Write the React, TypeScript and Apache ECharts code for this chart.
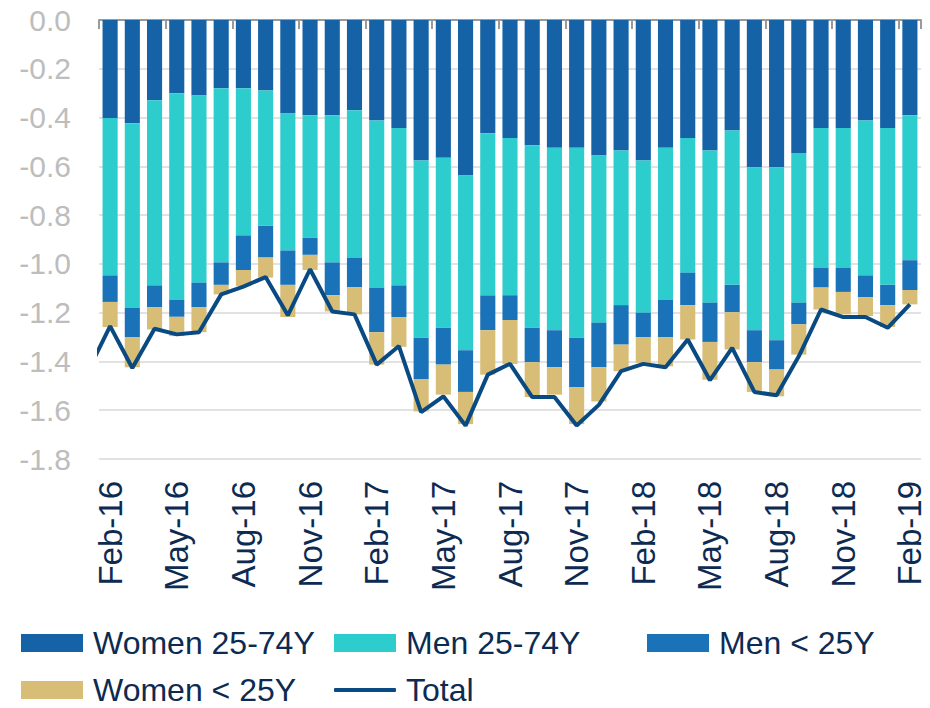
import React, { useEffect, useRef } from "react";
import * as echarts from "echarts";

const months = [
  "Feb-16", "Mar-16", "Apr-16", "May-16", "Jun-16", "Jul-16", "Aug-16", "Sep-16", "Oct-16", "Nov-16", "Dec-16",
  "Jan-17", "Feb-17", "Mar-17", "Apr-17", "May-17", "Jun-17", "Jul-17", "Aug-17", "Sep-17", "Oct-17", "Nov-17", "Dec-17",
  "Jan-18", "Feb-18", "Mar-18", "Apr-18", "May-18", "Jun-18", "Jul-18", "Aug-18", "Sep-18", "Oct-18", "Nov-18", "Dec-18",
  "Jan-19", "Feb-19",
];

const women2574 = [
  -0.402, -0.423, -0.329, -0.300, -0.310, -0.280, -0.280, -0.289, -0.383, -0.391, -0.391, -0.370,
  -0.412, -0.443, -0.576, -0.565, -0.638, -0.464, -0.484, -0.514, -0.524, -0.524, -0.556, -0.535,
  -0.576, -0.524, -0.484, -0.535, -0.453, -0.604, -0.604, -0.545, -0.443, -0.443, -0.412, -0.443, -0.391,
];
const men2574 = [
  -0.645, -0.758, -0.759, -0.848, -0.767, -0.714, -0.603, -0.555, -0.562, -0.502, -0.603, -0.604,
  -0.685, -0.645, -0.727, -0.697, -0.716, -0.665, -0.645, -0.748, -0.748, -0.779, -0.685, -0.634,
  -0.624, -0.624, -0.552, -0.624, -0.633, -0.668, -0.709, -0.614, -0.572, -0.572, -0.635, -0.643, -0.594,
];
const menUnder25 = [
  -0.109, -0.119, -0.089, -0.069, -0.100, -0.092, -0.142, -0.130, -0.141, -0.070, -0.134, -0.121,
  -0.183, -0.130, -0.169, -0.151, -0.171, -0.143, -0.101, -0.141, -0.152, -0.202, -0.183, -0.162,
  -0.100, -0.152, -0.133, -0.161, -0.112, -0.131, -0.120, -0.089, -0.082, -0.100, -0.089, -0.083, -0.122,
];
const womenUnder25 = [
  -0.103, -0.124, -0.092, -0.079, -0.103, -0.039, -0.066, -0.082, -0.132, -0.062, -0.067, -0.112,
  -0.133, -0.122, -0.133, -0.123, -0.132, -0.182, -0.180, -0.143, -0.112, -0.152, -0.140, -0.109,
  -0.106, -0.120, -0.141, -0.155, -0.153, -0.122, -0.110, -0.124, -0.090, -0.092, -0.078, -0.090, -0.059,
];
// Total: the line also has a point for the month before the first bar (Jan-16), clipped by the plot edge
const totalPrior = -1.44;
const total = [
  -1.255, -1.427, -1.266, -1.289, -1.280, -1.125, -1.093, -1.054, -1.211, -1.022, -1.195, -1.207,
  -1.413, -1.337, -1.608, -1.543, -1.663, -1.454, -1.410, -1.546, -1.546, -1.663, -1.578, -1.440,
  -1.410, -1.424, -1.310, -1.477, -1.344, -1.525, -1.539, -1.379, -1.187, -1.218, -1.218, -1.262, -1.166,
];

const C_W2574 = "#1562a6";
const C_M2574 = "#2ecdcd";
const C_MU25 = "#1a73b9";
const C_WU25 = "#d8bd76";
const C_TOTAL = "#0a4a82";
const NAVY = "#0d2b52";
const FONT = "'Liberation Sans', Arial, sans-serif";

export default function App() {
  const ref = useRef<HTMLDivElement>(null);

  useEffect(() => {
    document.body.style.margin = "0";
    if (!ref.current) return;
    const chart = echarts.init(ref.current, null, { renderer: "svg" });

    const lineData = [[-1, totalPrior], ...total.map((v, i) => [i, v])];

    const legendBase = (name: string, left: number, top: number, isLine = false) => ({
      data: [name],
      left,
      top,
      padding: 0,
      orient: "horizontal",
      itemWidth: 62,
      itemHeight: isLine ? 4 : 18,
      icon: isLine ? "roundRect" : "rect",
      selectedMode: false,
      textStyle: {
        fontFamily: FONT,
        fontSize: 32,
        color: NAVY,
        lineHeight: 32,
        padding: [0, 0, 0, 5],
      },
    });

    const barSeries = (name: string, data: number[], color: string) => ({
      name,
      type: "bar",
      stack: "total",
      xAxisIndex: 0,
      yAxisIndex: 0,
      data,
      barCategoryGap: "32%",
      itemStyle: { color },
    });

    chart.setOption({
      animation: false,
      backgroundColor: "#ffffff",
      grid: { left: 99, right: 9, top: 20, bottom: 249, containLabel: false },
      legend: [
        legendBase("Women 25-74Y", 21, 627),
        legendBase("Men 25-74Y", 334, 627),
        legendBase("Men < 25Y", 647, 627),
        legendBase("Women < 25Y", 21, 674),
        legendBase("Total", 334, 674, true),
      ],
      xAxis: [
        {
          type: "category",
          data: months,
          position: "bottom",
          boundaryGap: true,
          axisLine: { show: false },
          axisTick: { show: false },
          splitLine: { show: false },
          axisLabel: {
            interval: 2,
            rotate: 90,
            margin: 22,
            fontFamily: FONT,
            fontSize: 33,
            color: NAVY,
          },
        },
        {
          type: "category",
          data: months,
          position: "top",
          boundaryGap: true,
          axisLine: { show: true, lineStyle: { color: "#9a9a9a", width: 2 } },
          axisTick: {
            show: true,
            inside: true,
            length: 9,
            interval: 2,
            lineStyle: { color: "#9a9a9a", width: 2 },
          },
          axisLabel: { show: false },
          splitLine: { show: false },
        },
        {
          type: "value",
          min: -0.5,
          max: 36.5,
          show: false,
          splitLine: { show: false },
        },
      ],
      yAxis: {
        type: "value",
        min: -1.8,
        max: 0,
        interval: 0.2,
        axisLine: { show: false },
        axisTick: { show: false },
        axisLabel: {
          margin: 28,
          fontFamily: FONT,
          fontSize: 30,
          color: "#bdbdbd",
          formatter: (v: number) => (Math.abs(v) < 1e-9 ? "0.0" : v.toFixed(1)),
        },
        splitLine: { show: true, lineStyle: { color: "#d9d9d9", width: 1.5 } },
      },
      series: [
        barSeries("Women 25-74Y", women2574, C_W2574),
        barSeries("Men 25-74Y", men2574, C_M2574),
        barSeries("Men < 25Y", menUnder25, C_MU25),
        barSeries("Women < 25Y", womenUnder25, C_WU25),
        {
          name: "Total",
          type: "line",
          xAxisIndex: 2,
          yAxisIndex: 0,
          data: lineData,
          symbol: "none",
          clip: true,
          z: 5,
          itemStyle: { color: C_TOTAL },
          lineStyle: { color: C_TOTAL, width: 4 },
        },
      ],
    });

    return () => {
      chart.dispose();
    };
  }, []);

  return <div ref={ref} style={{ width: 930, height: 708 }} />;
}
